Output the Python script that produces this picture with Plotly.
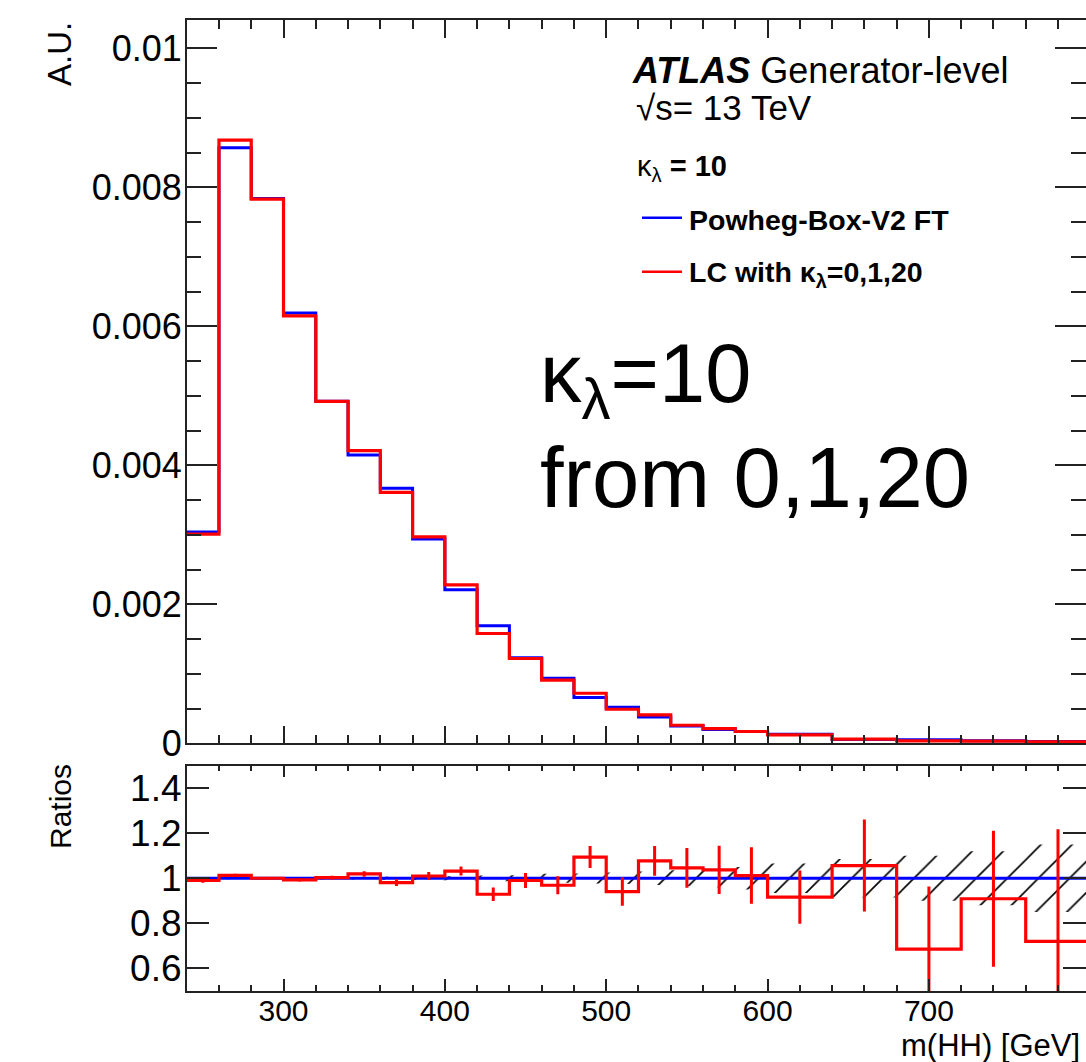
import plotly.graph_objects as go

W, H = 1086, 1062

# ---------------- data ----------------
bin_edges = [240, 260, 280, 300, 320, 340, 360, 380, 400, 420, 440, 460, 480,
             500, 520, 540, 560, 580, 600, 640, 680, 720, 760, 800]

# Powheg-Box-V2 FT, kappa_lambda = 10 (A.U.)
powheg_ft = [0.00304, 0.00857, 0.00784, 0.00619, 0.00492, 0.00415, 0.00367,
             0.00294, 0.00221, 0.00169, 0.00123, 0.000935, 0.00066, 0.00052,
             0.00038, 0.00025, 0.00020, 0.00017, 0.00013, 0.000055, 0.00005,
             0.000035, 0.000025]

# LC with kappa_lambda = 0,1,20 (A.U.)
lc_combination = [0.00301, 0.00868, 0.00783, 0.00615, 0.00492, 0.00421, 0.00361,
                  0.00297, 0.00228, 0.00158, 0.00122, 0.00091, 0.00072, 0.00049,
                  0.00041, 0.00026, 0.00021, 0.00017, 0.00012, 0.00006, 0.000035,
                  0.00003, 0.00002]

# ratio LC / Powheg
ratio = [0.99, 1.013, 1.0, 0.993, 1.003, 1.019, 0.981, 1.01, 1.032, 0.929, 0.99,
         0.969, 1.094, 0.941, 1.077, 1.046, 1.037, 1.012, 0.916, 1.056, 0.686,
         0.909, 0.72]
ratio_err = [0.01, 0.007, 0.006, 0.007, 0.008, 0.012, 0.015, 0.018, 0.02, 0.03,
             0.033, 0.04, 0.049, 0.063, 0.066, 0.088, 0.107, 0.125, 0.118, 0.204,
             0.277, 0.302, 0.497]
# statistical uncertainty of the reference (hatched band)
ref_stat_err = [0.004, 0.003, 0.003, 0.004, 0.005, 0.006, 0.007, 0.008, 0.01,
                0.012, 0.015, 0.02, 0.022, 0.025, 0.03, 0.035, 0.04, 0.05, 0.065,
                0.085, 0.1, 0.12, 0.15]

x_ticks_major = 100
x_ticks_minor = 20

# ---------------- helpers ----------------
def px(x):
    return x / W


def py(y):
    return 1 - y / H


FONT = "Liberation Sans, Arial, Helvetica, sans-serif"
AXC = "#222222"

step_x = bin_edges
centers = [(a + b) / 2 for a, b in zip(bin_edges[:-1], bin_edges[1:])]

fig = go.Figure()

# ---- upper panel ----
fig.add_trace(go.Scatter(x=step_x, y=powheg_ft + [powheg_ft[-1]], mode="lines",
                         line=dict(color="#0000ff", width=3, shape="hv"),
                         xaxis="x", yaxis="y", showlegend=False, hoverinfo="skip"))
fig.add_trace(go.Scatter(x=step_x, y=lc_combination + [lc_combination[-1]], mode="lines",
                         line=dict(color="#ff0000", width=3.2, shape="hv"),
                         xaxis="x", yaxis="y", showlegend=False, hoverinfo="skip"))

# ---- lower panel ----
band_x, band_y = [], []
for lo, hi, e in zip(bin_edges[:-1], bin_edges[1:], ref_stat_err):
    band_x += [lo, hi]
    band_y += [1 + e, 1 + e]
for lo, hi, e in reversed(list(zip(bin_edges[:-1], bin_edges[1:], ref_stat_err))):
    band_x += [hi, lo]
    band_y += [1 - e, 1 - e]
fig.add_trace(go.Scatter(x=band_x, y=band_y, mode="lines", fill="toself",
                         line=dict(width=0, color="rgba(0,0,0,0)"),
                         fillcolor="rgba(0,0,0,0)",
                         fillpattern=dict(shape="/", fgcolor="#000000", fgopacity=1,
                                          bgcolor="rgba(0,0,0,0)", size=22,
                                          solidity=0.075),
                         xaxis="x2", yaxis="y2", showlegend=False, hoverinfo="skip"))
ones = [1.0] * len(ratio)
fig.add_trace(go.Scatter(x=step_x, y=ones + [ones[-1]], mode="lines",
                         line=dict(color="#0000ff", width=3, shape="hv"),
                         xaxis="x2", yaxis="y2", showlegend=False, hoverinfo="skip"))
fig.add_trace(go.Scatter(x=step_x, y=ratio + [ratio[-1]], mode="lines",
                         line=dict(color="#ff0000", width=3.2, shape="hv"),
                         xaxis="x2", yaxis="y2", showlegend=False, hoverinfo="skip"))
fig.add_trace(go.Scatter(x=centers, y=ratio, mode="markers",
                         marker=dict(size=1, color="rgba(255,0,0,0)"),
                         error_y=dict(type="data", array=ratio_err, color="#ff0000",
                                      thickness=3, width=0),
                         xaxis="x2", yaxis="y2", showlegend=False, hoverinfo="skip"))

# dummy traces to activate right-side tick axes
fig.add_trace(go.Scatter(x=[bin_edges[0]], y=[0], mode="none", xaxis="x", yaxis="y3",
                         showlegend=False, hoverinfo="skip"))
fig.add_trace(go.Scatter(x=[bin_edges[0]], y=[1], mode="none", xaxis="x2", yaxis="y4",
                         showlegend=False, hoverinfo="skip"))

x_left = 186.7
x_scale = (606.0 - 283.3) / 200.0
x_right_val = bin_edges[0] + (W - x_left) / x_scale
xrange = [bin_edges[0], x_right_val]

top_y0, top_y1 = 20.0, 743.3
top_range = [0, 0.001 * (top_y1 - top_y0) / 69.5]
bot_y0, bot_y1 = 765.5, 991.0

common_x = dict(range=xrange, domain=[px(x_left), 1], ticks="inside", tick0=0,
                dtick=x_ticks_major, showline=True, linecolor=AXC, linewidth=1.5,
                tickcolor=AXC, tickwidth=1.5, mirror="ticks", showgrid=False,
                zeroline=False, automargin=False)

fig.update_layout(
    width=W, height=H,
    margin=dict(l=0, r=0, t=0, b=0, pad=0, autoexpand=False),
    paper_bgcolor="white", plot_bgcolor="white",
    font=dict(family=FONT, color="black"),
    showlegend=False,
    xaxis=dict(**common_x, anchor="y", ticklen=18, showticklabels=False,
               minor=dict(dtick=x_ticks_minor, ticks="inside", ticklen=9,
                          tickcolor=AXC, tickwidth=1.5, showgrid=False)),
    yaxis=dict(domain=[py(top_y1), py(top_y0)], range=top_range, anchor="x",
               ticks="inside", tick0=0, dtick=0.002, ticklen=31, tickcolor=AXC,
               tickwidth=1.5, showline=True, linecolor=AXC, linewidth=1.5,
               showgrid=False, zeroline=False, tickfont=dict(size=36),
               ticklabelstandoff=-4, automargin=False,
               minor=dict(dtick=0.0005, ticks="inside", ticklen=15, tickcolor=AXC,
                          tickwidth=1.5, showgrid=False)),
    yaxis3=dict(overlaying="y", side="right", anchor="x", range=top_range,
                ticks="inside", tick0=0, dtick=0.002, ticklen=31, tickcolor=AXC,
                tickwidth=1.5, showline=False, showgrid=False, zeroline=False,
                showticklabels=False, automargin=False,
                minor=dict(dtick=0.0005, ticks="inside", ticklen=15, tickcolor=AXC,
                           tickwidth=1.5, showgrid=False)),
    xaxis2=dict(**common_x, anchor="y2", ticklen=12, showticklabels=True,
                tickfont=dict(size=30), ticklabelstandoff=-8,
                minor=dict(dtick=x_ticks_minor, ticks="inside", ticklen=6,
                           tickcolor=AXC, tickwidth=1.5, showgrid=False)),
    yaxis2=dict(domain=[py(bot_y1), py(bot_y0)], range=[0.5, 1.5], anchor="x2",
                ticks="inside", tick0=0.6, dtick=0.2, ticklen=23, tickcolor=AXC,
                tickwidth=1.5, showline=True, linecolor=AXC, linewidth=1.5,
                showgrid=False, zeroline=False, tickfont=dict(size=37),
                ticklabelstandoff=-4, automargin=False),
    yaxis4=dict(overlaying="y2", side="right", anchor="x2", range=[0.5, 1.5],
                ticks="inside", tick0=0.6, dtick=0.2, ticklen=23, tickcolor=AXC,
                tickwidth=1.5, showline=False, showgrid=False, zeroline=False,
                showticklabels=False, automargin=False),
)

ann = []


def text(x, y, s, size, xanchor="left", yanchor="middle", angle=0):
    ann.append(dict(x=px(x), y=py(y), xref="paper", yref="paper", text=s,
                    showarrow=False, xanchor=xanchor, yanchor=yanchor,
                    textangle=angle, font=dict(size=size, family=FONT, color="black")))


text(630, 70, "<b><i>ATLAS</i></b> Generator-level", 36)
text(634, 108, "√s= 13 TeV", 35)
text(635, 168, "κ<sub>λ</sub><b> = 10</b>", 29)
text(687, 220, "<b>Powheg-Box-V2 FT</b>", 28.5)
text(687, 274, "<b>LC with κ<sub>λ</sub>=0,1,20</b>", 28.5)
text(538, 379, "κ<sub>λ</sub>=10", 83)
text(538, 477, "from 0,1,20", 85)
text(60, 20, "A.U.", 33, xanchor="center", yanchor="top", angle=-90)
text(60, 807, "Ratios", 30, xanchor="center", yanchor="middle", angle=-90)
# axis title kept inside the page (the original is cropped at the right edge)
text(1082, 1045, "m(HH) [GeV]", 31, xanchor="right")

fig.update_layout(annotations=ann)

fig.update_layout(shapes=[
    dict(type="line", xref="paper", yref="paper", x0=px(642), x1=px(682),
         y0=py(217.7), y1=py(217.7), line=dict(color="#0000ff", width=2.5)),
    dict(type="line", xref="paper", yref="paper", x0=px(642), x1=px(682),
         y0=py(271.7), y1=py(271.7), line=dict(color="#ff0000", width=2.5)),
])

fig.write_html("out.html")
